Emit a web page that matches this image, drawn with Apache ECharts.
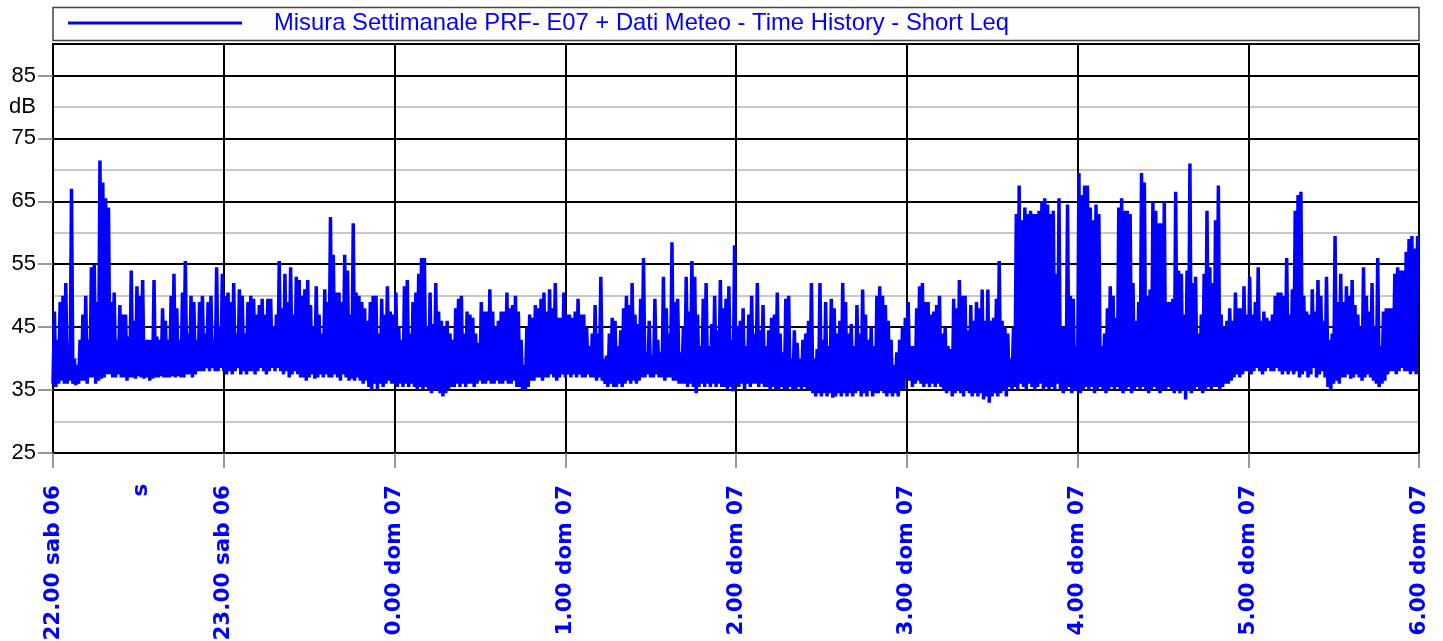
<!DOCTYPE html>
<html>
<head>
<meta charset="utf-8">
<script src="https://cdn.jsdelivr.net/npm/echarts@6/dist/echarts.min.js"></script>
<style>
html,body{margin:0;padding:0;background:#fff;}
#chart{width:1443px;height:641px;}
</style>
</head>
<body>
<div id="chart"></div>
<script>
// time axis labels, one per hour
var tick_labels = ['22.00 sab 06','23.00 sab 06','0.00 dom 07','1.00 dom 07','2.00 dom 07','3.00 dom 07','4.00 dom 07','5.00 dom 07','6.00 dom 07'];
var series_name = 'Misura Settimanale PRF- E07 + Dati Meteo - Time History - Short Leq';

// per minute: peak (hi) and floor (lo) of Short Leq in dB, one pair of arrays per hour
var hi_22 = [47.5,43,49,50,52,42.5,67,40,39,43, 47,50,43,54.5,55,49,71.5,68,65.5,64, 49,50.5,43,48.5,47,47,43.5,54,46,51.5, 50,52.5,43,43,43,52.5,43.5,43,48,46, 43,50,53.5,48,43,50.5,55.5,44,50,49, 43,49,50,44,49,50,43,54.5,45,53.5];
var lo_22 = [36,35.5,36,36.5,36,36,36.5,36,35.8,36, 36.5,36.5,36,37,37,36,36.5,36.8,37,37.5, 37.5,37,37,37.5,37,37,36.5,37,37,36.8, 37.2,37,36.8,37,36.5,36.8,37,37,37.2,37, 37,37,37.2,37,37.2,37,37,37.5,37.5,37, 37.5,38,38,38,38.5,38,38.5,38,38,38.5];

var hi_23 = [50,50.5,49,52,44,51,50,44,49,50, 49.5,47,48.5,49.5,47,49.5,49.5,45,47,55.5, 48,53.5,49,54.5,47,53,52.5,50,51,52.5, 48.5,45,51.5,47,44,51,49,62.5,56.5,50.5, 50.5,49,56.5,54,47,61.5,50.5,50,49,48, 46,49,50,50,44,49.5,47,51.5,47.5,47];
var lo_23 = [38,37.5,38,37.5,38,38.5,37.5,38,37.5,38, 38,37.5,38,38.5,38,37.5,38,38.5,38,38.5, 38,37.5,38,37,37.5,38,37.5,37,37,36.5, 37,37.5,36.8,37,37.5,37,37.5,37,37,37.5, 37,36.5,37.5,37,36.5,36.8,36.5,37,36.5,36, 36.5,35.5,35,36,35,36,35.5,36,36.5,36];

var hi_00 = [50.5,45,43,51.5,52.5,44,49,50.5,53.5,56, 56,45,50.5,45.5,52,47.5,46,45,46,44, 43,48,49.5,50,44,47.5,47,46.5,44,42.5, 49,47.5,47.5,51,47.5,45,46,47.5,47.5,50.5, 48,48.5,50,47.5,43,39,45,47,46.5,48.5, 48,49.5,50.5,47.5,51,48,52,46.5,46.5,50.5];
var lo_00 = [36,35.5,36,35.5,36,35.5,36,35.5,35,35.5, 35,35.5,35,34.5,35,35,34.5,34,34.5,35, 35.5,35.5,36,35.5,36,35.5,36,36,35.5,36, 36.5,36,36,36.5,36,36,36.5,36,36,36.5, 36,36,36.5,35.5,35.5,35,35,35.5,36.5,36.5, 37,37,36.5,37,37,37.5,37,36.5,37,37.5];

var hi_01 = [47,47,46.5,47.5,49.5,47,47,45,42,44, 48.5,44,53,40,40.5,44,46.5,46,42,44.5, 48,50,48.5,52,47,45.5,49.5,56,41,46, 40.5,49.5,43,41,53,48,44,58.5,49,49.5, 41,45,53,47.5,55.5,53,47,42,49.5,52, 42,45.5,50,44.5,52.5,48,49.5,51.5,43,58];
var lo_01 = [37,37.5,37,37.5,37,37.5,37,37,37.5,37, 37,36.5,37,36.5,36,35.5,36,35.5,35.5,36, 35.5,36,36.5,36,36.5,36,36.5,37,37,37.5, 37,37,37.5,37,37,36.5,37,37,36.5,36.5, 36,36,36,35.5,36,35.5,34.5,35.5,36,35.5, 36,35.5,36,35.5,36,35.5,35.5,35,35.5,34.8];

var hi_02 = [45,46,48,42,47,50,44,52,44.5,48.5, 42,44.5,46.5,47,50.5,44,41,49.5,50,40, 44.5,42.5,40,43,44,46,52,40,41.5,52, 43,49,42,49.5,48,44,46,52,49,44, 45.5,42,48.5,44,51,47,43,45,42,50, 51.5,50,48.5,46,43,39,41,43,45,46.5];
var lo_02 = [36,35.5,36,35,36,35.5,36,36,35.5,36, 35.5,35.5,35,35.5,35,35,35.5,35,35,35.5, 35,35,35.5,35,35.5,35,35,34.5,34,34.5, 34,34.5,34,34.5,33.8,34,34.5,34,34.5,34, 34.5,34,34.5,35,34,34.5,34,35,34,34.5, 34.5,35,34.5,34,34.5,34,34.5,34,35,35];

var hi_03 = [49,42,42,48,51.5,52,49,49,47,47.5, 48.5,50,44,45,42,41.5,49.5,48,52.5,50, 50,44.5,48.5,46,49,48,51,46,51,46, 46.5,49.5,55.5,46,45,44,40,45,63,67.5, 62,64,63,63.5,63,63,63.5,65,65.5,64.5, 63,63.5,53.5,65.5,45,45,64.5,50,49.5,42];
var lo_03 = [37,36.5,35.5,36,36.5,36,35.5,36,35.5,36, 35.5,36,35.5,35,34.5,35,34,34.5,35,34.5, 34,35,34.5,34,34.5,34,34.5,33.5,34,33, 34,34.5,34,34.5,35,34,35.5,35,35.5,35, 36,35.5,35,36,35.5,35,35.5,36,35,35.5, 35,35.5,35,36,35,34.5,35,35.5,34.5,35];

var hi_04 = [69.5,66,67.5,67.5,64,62,64.5,63,42,44, 48,51.5,50,46.5,64,65.5,63.5,63.5,63,52, 46,49,69.5,68,50,51,65,63.5,61.5,61.5, 65,49,49,49.5,66.5,54,53.5,47,54,71, 52,53,44,47,53.5,63.5,54.5,52,62,67.5, 47,45,46,48,46,50.5,48,48,51.5,47];
var lo_04 = [35,34.5,35,35.5,35,35.5,34.5,35,35.5,35, 34.5,35,35.5,35,35.5,35,34.5,35,35.5,34.5, 35,35.5,35,35.5,35,34.5,35,35.5,35,34.5, 35,35,35.5,35,34.5,35,34.5,35,33.5,35, 34.5,35,35.5,35,34.5,35,35.5,35,35.5,35.5, 35,35.5,36,36,36.5,37,37.5,37,37.5,38];

var hi_05 = [53,47,49,54.5,46,47.5,46.5,46,47,50, 50.5,50.5,50,56,47,51,63.5,66,66.5,50, 47.5,47,51,47.5,52.5,50,46,53,43,44, 59.5,49,53.5,49,51.5,50,52.5,48.5,47,45, 54.5,50,47.5,52,45,56,42,47.5,48,48, 48,53.5,54.5,54,54,57,59,59.5,57.5,59.5];
var lo_05 = [38,37.5,38,38.5,38,37.5,38,38.5,38,38, 38.5,38,37.5,38,37.5,38,37.5,38,37,37.5, 38,37,37.5,38.5,37,37.5,38,37,35.5,35, 36,36.5,36,37,37,37.5,36.8,37,37.5,37, 36.5,37,37.5,37,36.5,36,35.5,36,36.5,37.5, 38,38,37.5,38,38.5,38,38,37.5,38,37.5];

var hours_hi = [hi_22, hi_23, hi_00, hi_01, hi_02, hi_03, hi_04, hi_05];
var hours_lo = [lo_22, lo_23, lo_00, lo_01, lo_02, lo_03, lo_04, lo_05];

function build_leq(){
  var out = [];
  for(var h=0;h<hours_hi.length;h++){
    for(var m=0;m<hours_hi[h].length;m++){
      var t = h*60+m;
      out.push([t, hours_lo[h][m]]);
      out.push([t+0.5, hours_hi[h][m]]);
    }
  }
  return out;
}

var myChart = echarts.init(document.getElementById('chart'));
var leq_data = build_leq();

option = {
  animation: false,
  legend: {
    data: [series_name],
    left: 68,
    top: 11,
    padding: 0,
    icon: 'rect',
    itemWidth: 174,
    itemHeight: 3,
    selectedMode: false,
    textStyle: {
      color: '#0000ff',
      fontFamily: 'Liberation Sans, Arial, sans-serif',
      fontSize: 23.8,
      padding: [0, 0, 0, 27]
    }
  },
  graphic: [
    {
      type: 'rect',
      z: -10,
      shape: {x: 53, y: 7.5, width: 1366, height: 33},
      style: {fill: '#fff', stroke: '#444', lineWidth: 1.5}
    },
    {
      type: 'text',
      x: 141,
      y: 490,
      rotation: Math.PI / 2,
      style: {
        text: 's',
        fill: '#0000ff',
        font: 'bold 21.5px "DejaVu Sans"',
        align: 'center',
        verticalAlign: 'middle'
      }
    }
  ],
  grid: {
    left: 53,
    right: 24,
    top: 44,
    bottom: 188,
    outerBoundsMode: 'none',
    show: true,
    borderColor: '#000',
    borderWidth: 2
  },
  xAxis: {
    type: 'value',
    min: 0,
    max: 480,
    interval: 60,
    axisLine: {lineStyle: {color: '#000', width: 2}},
    axisTick: {length: 15, lineStyle: {color: '#777', width: 1.5}},
    axisLabel: {
      rotate: 90,
      margin: 32,
      padding: [8, 0, 0, 0],
      color: '#0000ff',
      fontWeight: 'bold',
      fontFamily: 'DejaVu Sans',
      fontSize: 21.5,
      formatter: function(v){ return tick_labels[Math.round(v/60)]; }
    },
    splitLine: {show: true, lineStyle: {color: '#000', width: 2}}
  },
  yAxis: [
    {
      type: 'value',
      min: 25,
      max: 90,
      interval: 5,
      axisLine: {show: true, lineStyle: {color: '#000', width: 2}},
      axisTick: {show: false},
      axisLabel: {
        customValues: [25, 35, 45, 55, 65, 75, 80, 85],
        margin: 17,
        color: '#000',
        fontFamily: 'Liberation Sans, Arial, sans-serif',
        fontSize: 22,
        formatter: function(v){ return v == 80 ? 'dB' : v; }
      },
      splitLine: {
        show: true,
        showMaxLine: false,
        lineStyle: {color: ['#000', '#c8c8c8'], width: 2}
      }
    },
    {
      // only used for the outer ticks at the labelled values
      type: 'value',
      min: 25,
      max: 90,
      position: 'left',
      axisLine: {show: false},
      axisLabel: {show: false},
      splitLine: {show: false},
      axisTick: {
        show: true,
        length: 15,
        customValues: [25, 35, 45, 55, 65, 75, 85],
        lineStyle: {color: '#777', width: 1.5}
      }
    }
  ],
  series: [
    {
      name: series_name,
      type: 'line',
      data: leq_data,
      yAxisIndex: 0,
      showSymbol: false,
      symbol: 'none',
      color: '#0000ff',
      lineStyle: {color: '#0000ff', width: 3.5}
    }
  ]
};
myChart.setOption(option);
</script>
</body>
</html>
